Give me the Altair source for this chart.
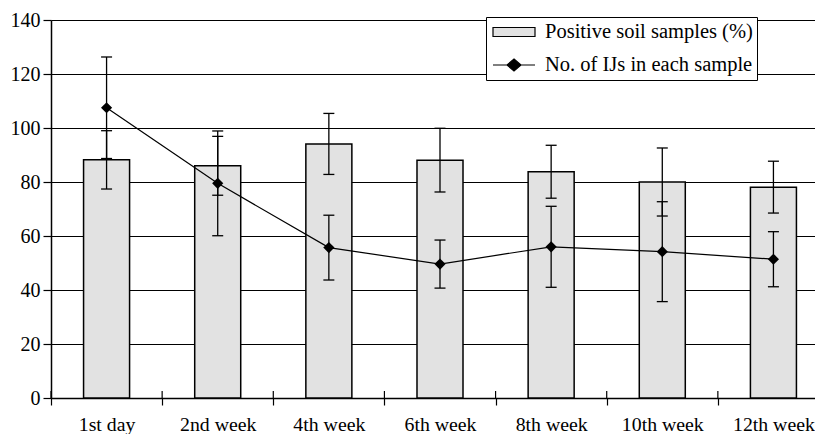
import altair as alt
import pandas as pd

categories = ["1st day", "2nd week", "4th week", "6th week", "8th week", "10th week", "12th week"]
positive_pct = [88.2, 86.0, 94.1, 88.1, 83.8, 80.0, 78.1]
positive_err = [10.8, 10.9, 11.3, 11.8, 9.8, 12.6, 9.6]
ijs_count = [107.5, 79.5, 55.7, 49.6, 56.0, 54.2, 51.4]
ijs_err = [18.8, 19.4, 12.0, 8.9, 15.0, 18.5, 10.2]
series_names = ["Positive soil samples (%)", "No. of IJs in each sample"]
y_ticks = [0, 20, 40, 60, 80, 100, 120, 140]

FONT = "Liberation Serif, DejaVu Serif, serif"
BAR_FILL = "#e2e2e2"
W, H = 764, 378          # visible plot area
BAND_RANGE = 778         # seven categories, last one partly beyond the frame

df = pd.DataFrame({
    "cat": categories,
    "pos": positive_pct,
    "pos_lo": [v - e for v, e in zip(positive_pct, positive_err)],
    "pos_hi": [v + e for v, e in zip(positive_pct, positive_err)],
    "ijs": ijs_count,
    "ijs_lo": [v - e for v, e in zip(ijs_count, ijs_err)],
    "ijs_hi": [v + e for v, e in zip(ijs_count, ijs_err)],
})
legend_df = pd.DataFrame({"series": series_names})

x_scale = alt.Scale(domain=categories, paddingInner=0, paddingOuter=0, range=[0, BAND_RANGE])
x_axis = alt.Axis(title=None, labelAngle=0, tickBand="extent", tickSize=7, labelPadding=9,
                  labelFontSize=19.8, labelFont=FONT, labelColor="black", domainColor="black",
                  tickColor="black", domainWidth=1.5, tickWidth=1.2, grid=False)
y_scale = alt.Scale(domain=[0, 140], nice=False, zero=True)
y_axis = alt.Axis(title=None, values=y_ticks, tickSize=8, labelPadding=3, labelFontSize=20,
                  labelFont=FONT, labelColor="black", domainColor="black", tickColor="black",
                  domainWidth=1.5, tickWidth=1.2, grid=True, gridColor="black", gridWidth=1)


def X(**kw):
    return alt.X("cat:N", sort=categories, scale=x_scale, axis=x_axis, **kw)


def Y(field):
    return alt.Y(f"{field}:Q", scale=y_scale, axis=y_axis)


base = alt.Chart(df)

bars = base.mark_bar(width=alt.RelativeBandSize(0.414), fill=BAR_FILL, stroke="black",
                     strokeWidth=1.5).encode(x=X(), y=Y("pos"))
bar_err = base.mark_rule(color="black", strokeWidth=1.3).encode(x=X(), y=Y("pos_lo"), y2="pos_hi:Q")
bar_cap_lo = base.mark_tick(color="black", size=11, thickness=1.3, opacity=1).encode(x=X(), y=Y("pos_lo"))
bar_cap_hi = base.mark_tick(color="black", size=11, thickness=1.3, opacity=1).encode(x=X(), y=Y("pos_hi"))

line = base.mark_line(color="black", strokeWidth=1.2).encode(x=X(), y=Y("ijs"))
ijs_err_r = base.mark_rule(color="black", strokeWidth=1.3).encode(x=X(), y=Y("ijs_lo"), y2="ijs_hi:Q")
ijs_cap_lo = base.mark_tick(color="black", size=11, thickness=1.3, opacity=1).encode(x=X(), y=Y("ijs_lo"))
ijs_cap_hi = base.mark_tick(color="black", size=11, thickness=1.3, opacity=1).encode(x=X(), y=Y("ijs_hi"))
points = base.mark_point(shape="diamond", filled=True, color="black", size=125,
                         opacity=1).encode(x=X(), y=Y("ijs"))

inner_ticks = base.mark_rule(color="black", strokeWidth=1.2).encode(
    x=X(bandPosition=0), y=alt.value(H - 7), y2=alt.value(H))

rect_path = "M-2.1,-0.45H2.1V0.45H-2.1Z"
line_path = "M-2.1,0H2.1M0,-0.6L0.7,0L0,0.6L-0.7,0Z"
leg = alt.Legend(title=None, orient="none", legendX=435, legendY=-3, direction="vertical",
                 fillColor="white", strokeColor="black", padding=4, rowPadding=11,
                 symbolSize=400, symbolOffset=13, labelOffset=20, labelFont=FONT,
                 labelFontSize=20.5, labelColor="black", symbolStrokeWidth=1.2, labelLimit=400,
                 symbolOpacity=1, labelExpr="datum.label + '\u00a0\u00a0\u00a0\u00a0'")
legend_layer = alt.Chart(legend_df).mark_point(filled=True, size=0, opacity=1).encode(
    fill=alt.Fill("series:N", scale=alt.Scale(domain=series_names, range=[BAR_FILL, "black"]), legend=leg),
    stroke=alt.Stroke("series:N", scale=alt.Scale(domain=series_names, range=["black", "black"]), legend=leg),
    shape=alt.Shape("series:N", scale=alt.Scale(domain=series_names, range=[rect_path, line_path]), legend=leg),
)

chart = alt.layer(
    bars, bar_err, bar_cap_lo, bar_cap_hi, line, ijs_err_r, ijs_cap_lo, ijs_cap_hi, points,
    inner_ticks, legend_layer
).properties(
    width=W, height=H,
    autosize=alt.AutoSizeParams(type="none"),
    padding={"left": 43, "top": 12, "right": 0, "bottom": 36},
).configure_view(strokeWidth=0).configure(font=FONT, background="white")

chart.save("out.html", embed_options={"renderer": "svg", "actions": False})
